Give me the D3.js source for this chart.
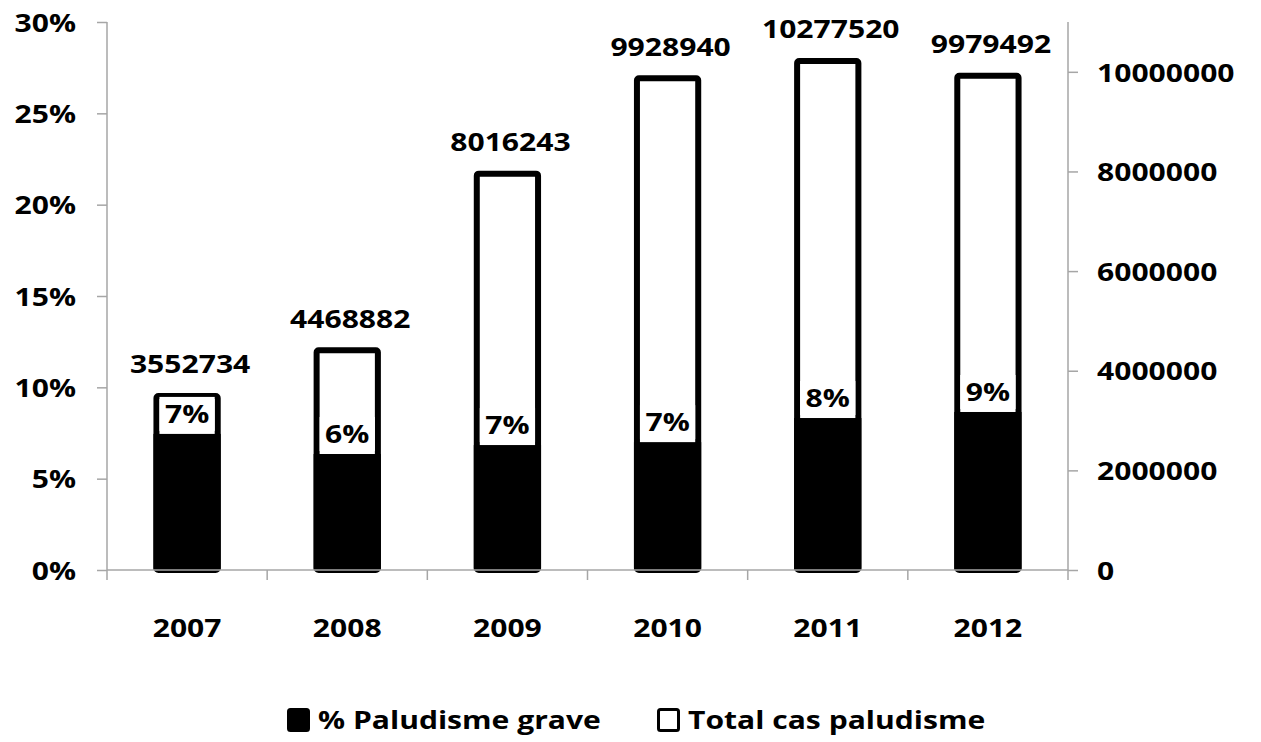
<!DOCTYPE html>
<html>
<head>
<meta charset="utf-8">
<script src="https://cdn.jsdelivr.net/npm/d3@7"></script>
<style>
  html, body { margin: 0; padding: 0; background: #fff; }
  svg { display: block; }
  text { font-family: "Open Sans", "Liberation Sans", sans-serif; font-weight: 700; fill: #000; }
</style>
</head>
<body>
<svg id="chart" width="1261" height="742"></svg>
<script>
// ---- data ----
const years = ["2007", "2008", "2009", "2010", "2011", "2012"];
const totalCases = [3552734, 4468882, 8016243, 9928940, 10277520, 9979492];
const severePct = [0.0745, 0.0635, 0.0684, 0.0700, 0.0832, 0.0865];
const leftTicks = [0, 0.05, 0.10, 0.15, 0.20, 0.25, 0.30];
const rightTicks = [0, 2000000, 4000000, 6000000, 8000000, 10000000];
const seriesNames = ["% Paludisme grave", "Total cas paludisme"];

// ---- layout ----
const svg = d3.select("#chart");
const W = 1261, H = 742;
const plot = { left: 107, right: 1068, top: 22, bottom: 570 };
const FS = 25.5, SX = 1.18; // font size and horizontal stretch

svg.append("rect").attr("width", W).attr("height", H).attr("fill", "#fff");

const x = d3.scaleBand().domain(years).range([plot.left, plot.right]).padding(0);
const yL = d3.scaleLinear().domain([0, 0.30]).range([plot.bottom, plot.top]);
const yR = d3.scaleLinear().domain([0, 11000000]).range([plot.bottom, plot.top]);

function stretchText(sel) {
  sel.each(function () {
    const t = d3.select(this);
    const tx = +t.attr("x") || 0, ty = +t.attr("y") || 0;
    t.attr("x", 0).attr("y", 0)
     .attr("transform", `translate(${tx},${ty}) scale(${SX},1)`);
  });
}
function stretchTicks(g) {
  g.selectAll(".tick text").attr("font-size", FS).attr("dy", "0.36em")
    .attr("font-family", null).attr("fill", "#000")
    .each(function () {
      const t = d3.select(this);
      const xx = +t.attr("x");
      t.attr("x", null).attr("transform", `translate(${xx},0) scale(${SX},1)`);
    });
}

const axisColor = "#a6a6a6";

// ---- left axis ----
const gL = svg.append("g").attr("transform", `translate(${plot.left},0)`)
  .call(d3.axisLeft(yL).tickValues(leftTicks).tickFormat(d3.format(".0%")).tickSize(10).tickPadding(21));
gL.select(".domain").attr("stroke", axisColor).attr("stroke-width", 1.5)
  .attr("d", `M0,${plot.bottom}V${plot.top}`);
gL.selectAll(".tick line").attr("stroke", axisColor).attr("stroke-width", 1.5);
stretchTicks(gL);

// ---- right axis ----
const gR = svg.append("g").attr("transform", `translate(${plot.right},0)`)
  .call(d3.axisRight(yR).tickValues(rightTicks).tickFormat(d3.format("d")).tickSize(10).tickPadding(19));
gR.select(".domain").attr("stroke", axisColor).attr("stroke-width", 1.5)
  .attr("d", `M0,${plot.bottom}V${plot.top}`);
gR.selectAll(".tick line").attr("stroke", axisColor).attr("stroke-width", 1.5);
stretchTicks(gR);

// ---- x axis ticks & labels ----
const boundaries = years.map(d => x(d)).concat([x(years[years.length - 1]) + x.bandwidth()]);
svg.selectAll("line.xtick").data(boundaries).enter().append("line")
  .attr("class", "xtick")
  .attr("x1", d => d).attr("x2", d => d)
  .attr("y1", plot.bottom).attr("y2", plot.bottom + 10)
  .attr("stroke", axisColor).attr("stroke-width", 1.5);
svg.selectAll("text.xlab").data(years).enter().append("text")
  .attr("class", "xlab")
  .attr("x", d => x(d) + x.bandwidth() / 2)
  .attr("y", 628)
  .attr("dy", "0.36em")
  .attr("text-anchor", "middle")
  .attr("font-size", FS)
  .text(d => d)
  .call(stretchText);

// ---- bars ----
const bw = x.bandwidth() * 0.42;
const sw = 6;
const data = years.map((y, i) => ({ year: y, total: totalCases[i], pct: severePct[i] }));

// total bars (white, black outline)
svg.selectAll("rect.total").data(data).enter().append("rect")
  .attr("class", "total")
  .attr("x", d => x(d.year) + x.bandwidth() / 2 - bw / 2 + sw / 2)
  .attr("y", d => yR(d.total) + sw / 2)
  .attr("width", bw - sw)
  .attr("height", d => plot.bottom - yR(d.total) - sw / 2)
  .attr("rx", 2)
  .attr("fill", "#fff").attr("stroke", "#000").attr("stroke-width", sw);

// severe % bars (black)
svg.selectAll("rect.pct").data(data).enter().append("rect")
  .attr("class", "pct")
  .attr("x", d => x(d.year) + x.bandwidth() / 2 - bw / 2)
  .attr("y", d => yL(d.pct))
  .attr("width", bw)
  .attr("height", d => plot.bottom - yL(d.pct))
  .attr("fill", "#000");

// x axis baseline over bar bottoms
svg.append("line").attr("x1", plot.left).attr("x2", plot.right)
  .attr("y1", plot.bottom).attr("y2", plot.bottom)
  .attr("stroke", axisColor).attr("stroke-width", 1.5);

// % labels with white box
const pctFmt = d3.format(".0%");
const lab = svg.selectAll("g.pctlab").data(data).enter().append("g").attr("class", "pctlab");
lab.append("rect")
  .attr("x", d => x(d.year) + x.bandwidth() / 2 - bw / 2 + sw)
  .attr("y", d => yL(d.pct) - 20 - 17)
  .attr("width", bw - 2 * sw)
  .attr("height", 34)
  .attr("fill", "#fff");
lab.append("text")
  .attr("x", d => x(d.year) + x.bandwidth() / 2)
  .attr("y", d => yL(d.pct) - 20)
  .attr("dy", "0.36em")
  .attr("text-anchor", "middle")
  .attr("font-size", FS)
  .text(d => pctFmt(d.pct))
  .call(stretchText);

// total labels
svg.selectAll("text.totlab").data(data).enter().append("text")
  .attr("class", "totlab")
  .attr("x", d => x(d.year) + x.bandwidth() / 2 + 3)
  .attr("y", d => yR(d.total) - 29)
  .attr("dy", "0.36em")
  .attr("text-anchor", "middle")
  .attr("font-size", FS)
  .text(d => d3.format("d")(d.total))
  .call(stretchText);

// ---- legend ----
const legY = 720;
const leg = svg.append("g");
const legItems = [
  { name: seriesNames[0], sx: 287, tx: 318, fill: "#000" },
  { name: seriesNames[1], sx: 657, tx: 688, fill: "#fff" }
];
legItems.forEach(it => {
  leg.append("rect").attr("x", it.sx + 1.5).attr("y", legY - 10.5).attr("width", 20).attr("height", 21)
    .attr("rx", 2)
    .attr("fill", it.fill).attr("stroke", "#000").attr("stroke-width", 3);
  leg.append("text").attr("x", it.tx).attr("y", legY).attr("dy", "0.36em")
    .attr("font-size", FS).text(it.name).call(stretchText);
});
</script>
</body>
</html>
